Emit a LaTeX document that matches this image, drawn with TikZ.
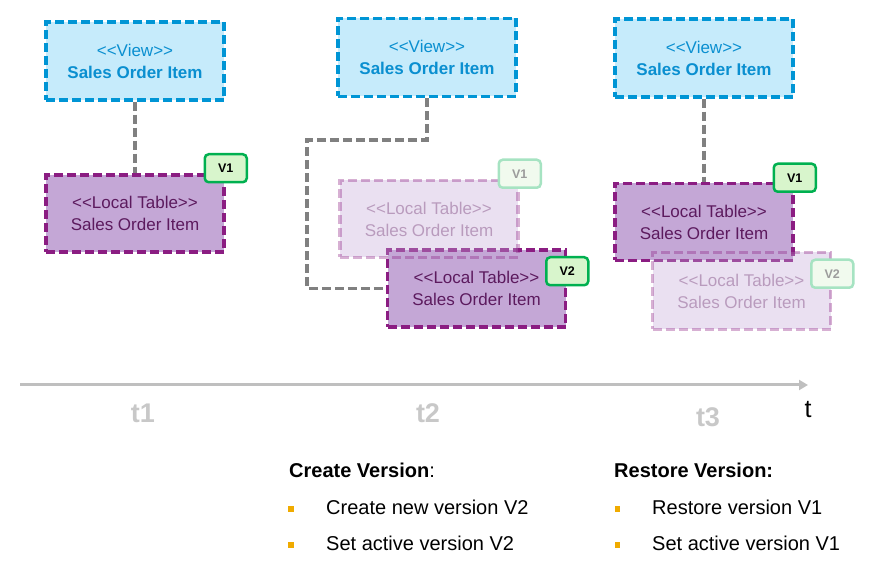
\documentclass[tikz,border=0pt]{standalone}
\usepackage{fontspec}
\setmainfont{Liberation Sans}
\usetikzlibrary{arrows.meta}
\definecolor{viewline}{HTML}{0095D5}
\definecolor{viewfill}{HTML}{C6EBFB}
\definecolor{viewtext}{HTML}{0A8FD0}
\definecolor{tableline}{HTML}{8B1D82}
\definecolor{tablefill}{HTML}{C4A7D6}
\definecolor{tabletext}{HTML}{5C1A5E}
\definecolor{tagline}{HTML}{00B050}
\definecolor{tagfill}{HTML}{D8F5CC}
\definecolor{fadedtagline}{HTML}{A6E3C2}
\definecolor{fadedtagfill}{HTML}{F1FAEE}
\definecolor{fadedtagtext}{HTML}{9C9C9C}
\definecolor{linkgray}{HTML}{808080}
\definecolor{axisgray}{HTML}{BFBFBF}
\definecolor{labelgray}{HTML}{C8C8C8}
\definecolor{bulletgold}{HTML}{F0AB00}
\newcommand{\boxfont}{\fontsize{17}{22}\selectfont}
\newcommand{\listfont}{\fontsize{20}{23}\selectfont}
\newcommand{\stereo}[1]{<{}<#1>{}>}

\begin{document}
\begin{tikzpicture}[
  x=1pt,y=-1pt, % pixel coordinates, y going down
  box/.style={draw,line width=3.5pt,dash pattern=on 9pt off 4pt,align=center,inner sep=0pt,font=\boxfont},
  view node/.style={box,draw=viewline,fill=viewfill,text=viewtext,minimum width=178pt,minimum height=78pt}, % style of the views
  table node/.style={box,draw=tableline,fill=tablefill,text=tabletext,minimum width=178pt,minimum height=77pt}, % style of the local tables
  faded node/.style={table node,opacity=0.35}, % inactive version
  tag node/.style={draw=tagline,fill=tagfill,text=black,line width=2.5pt,rounded corners=4pt,minimum width=42pt,minimum height=28pt,inner sep=0pt,font=\fontsize{12.5}{13}\selectfont\bfseries}, % version badge
  faded tag/.style={tag node,draw=fadedtagline,fill=fadedtagfill,text=fadedtagtext},
  link/.style={draw=linkgray,line width=3.5pt,dash pattern=on 9pt off 4pt},
  time label/.style={anchor=base,text=labelgray,font=\fontsize{27}{27}\selectfont\bfseries},
  bullet/.style={fill=bulletgold,minimum size=5.5pt,inner sep=0pt},
  item/.style={anchor=base west,inner sep=0pt,font=\listfont}
  ]
  \useasboundingbox (0,0) rectangle (887,577);

  % t1
  \node[view node] (view1) at (135,61) {\stereo{View}\\\textbf{Sales Order Item}};
  \node[table node] (lt1) at (135,213.5) {\stereo{Local Table}\\Sales Order Item};
  \node[tag node,yshift=5pt] (tag1) at (lt1.north east) {V1};

  % t2
  \node[view node] (view2) at (427,57.5) {\stereo{View}\\\textbf{Sales Order Item}};
  \node[table node] (lt2b) at (476.5,288.5) {\stereo{Local Table}\\Sales Order Item};
  \node[tag node,yshift=-23pt] (tag2b) at (lt2b.north east) {V2};
  \node[faded node] (lt2a) at (429,219) {\stereo{Local Table}\\Sales Order Item};
  \node[faded tag,yshift=5pt] (tag2a) at (lt2a.north east) {V1};
  \coordinate (bend2) at (307,140);

  % t3
  \node[view node] (view3) at (704,58) {\stereo{View}\\\textbf{Sales Order Item}};
  \node[table node] (lt3a) at (704,222) {\stereo{Local Table}\\Sales Order Item};
  \node[tag node,yshift=4pt] (tag3a) at (lt3a.north east) {V1};
  \node[faded node] (lt3b) at (741.5,291) {\stereo{Local Table}\\Sales Order Item};
  \node[faded tag,yshift=-23pt] (tag3b) at (lt3b.north east) {V2};

  \path[link]
    (view1) -- (lt1)
    (view2.south) |- (bend2) |- (lt2b.west)
    (view3) -- (lt3a);

  % time axis
  \coordinate (tstart) at (20,385);
  \coordinate (tend) at (808,385);
  \draw[axisgray,line width=3pt,-{Triangle[length=9pt,width=10pt]}] (tstart) -- (tend);
  \node[anchor=base,font=\fontsize{25}{25}\selectfont] (tlabel) at (808,418) {t};
  \node[time label] (t1) at (143,423) {t1};
  \node[time label] (t2) at (428,423) {t2};
  \node[time label] (t3) at (708,427) {t3};

  % actions
  \node[item] (create) at (289,477) {\textbf{Create Version}:};
  \node[bullet] (b1) at (291,509) {};
  \node[item] (c1) at (326,514) {Create new version V2};
  \node[bullet] (b2) at (291,545) {};
  \node[item] (c2) at (326,550) {Set active version V2};

  \node[item] (restore) at (614,477) {\textbf{Restore Version:}};
  \node[bullet] (b3) at (617.5,509) {};
  \node[item] (r1) at (652,514) {Restore version V1};
  \node[bullet] (b4) at (617.5,545) {};
  \node[item] (r2) at (652,550) {Set active version V1};
\end{tikzpicture}
\end{document}
